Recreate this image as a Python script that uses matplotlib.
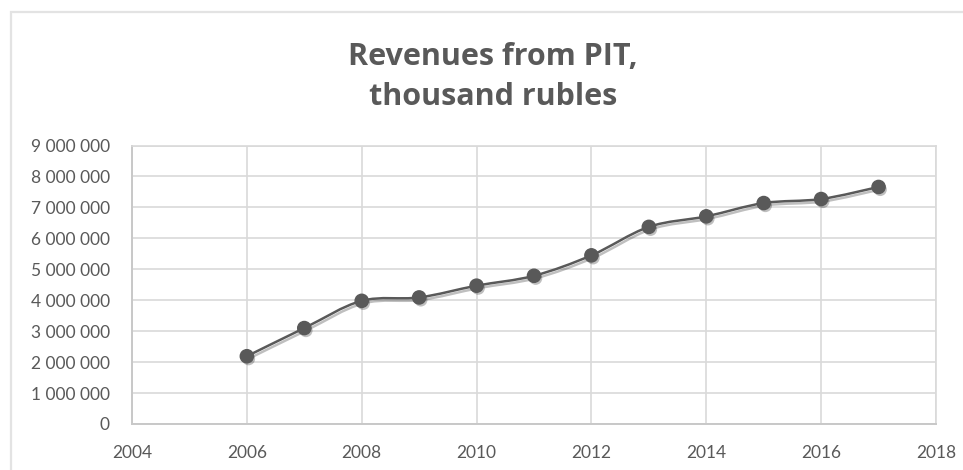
import numpy as np
import matplotlib
matplotlib.use("Agg")
import matplotlib.pyplot as plt
import matplotlib.patheffects as pe
from matplotlib.path import Path
from matplotlib.patches import PathPatch, Rectangle

# PIT revenues by year, thousand rubles
years = [2006, 2007, 2008, 2009, 2010, 2011, 2012, 2013, 2014, 2015, 2016, 2017]
revenues = [2190000, 3100000, 3980000, 4090000, 4470000, 4790000,
            5450000, 6370000, 6710000, 7140000, 7270000, 7660000]

title = "Revenues from PIT,\nthousand rubles"
x_ticks = [2004, 2006, 2008, 2010, 2012, 2014, 2016, 2018]
y_ticks = list(range(0, 9000001, 1000000))

grey = "#595959"
grid_c = "#d9d9d9"
font = "Lato"


def smooth_path(xs, ys):
    # Excel-style smoothed line: cubic Bezier segments, Catmull-Rom tangents
    xs = np.asarray(xs, float)
    ys = np.asarray(ys, float)
    n = len(xs)
    verts = [(xs[0], ys[0])]
    codes = [Path.MOVETO]
    for i in range(n - 1):
        i0 = max(i - 1, 0)
        i3 = min(i + 2, n - 1)
        c1 = (xs[i] + (xs[i + 1] - xs[i0]) / 6.0, ys[i] + (ys[i + 1] - ys[i0]) / 6.0)
        c2 = (xs[i + 1] - (xs[i3] - xs[i]) / 6.0, ys[i + 1] - (ys[i3] - ys[i]) / 6.0)
        verts += [c1, c2, (xs[i + 1], ys[i + 1])]
        codes += [Path.CURVE4] * 3
    return Path(verts, codes)


fig = plt.figure(figsize=(9.63, 4.70), dpi=100)

# chart frame
fig.patches.append(Rectangle((11 / 963, -0.05), 1.2, 1 - 12 / 470 + 0.05,
                             transform=fig.transFigure, fill=False,
                             edgecolor="#e3e3e3", linewidth=1.6))

ax = fig.add_axes([132 / 963, 1 - 424 / 470, (936 - 132) / 963, (424 - 145.5) / 470])
ax.set_xlim(2004, 2018)
ax.set_ylim(0, 9000000)
ax.set_xticks(x_ticks)
ax.set_yticks(y_ticks)
ax.set_xticklabels([str(t) for t in x_ticks])
ax.set_yticklabels(["{:,}".format(t).replace(",", " ") for t in y_ticks])
ax.tick_params(length=0, labelsize=12.5, labelcolor=grey)
ax.tick_params(axis="y", pad=16)
ax.tick_params(axis="x", pad=15)
for lab in ax.get_xticklabels() + ax.get_yticklabels():
    lab.set_fontfamily(font)

ax.grid(True, color=grid_c, linewidth=1.2)
ax.set_axisbelow(True)
for s in ["top", "right"]:
    ax.spines[s].set_color(grid_c)
    ax.spines[s].set_linewidth(1.2)
for s in ["left", "bottom"]:
    ax.spines[s].set_color("#c8c8c8")
    ax.spines[s].set_linewidth(1.4)

line_shadow = [pe.SimpleLineShadow(offset=(1.2, -1.8), shadow_color="black", alpha=0.25), pe.Normal()]
dot_shadow = [pe.SimplePatchShadow(offset=(1.2, -1.8), shadow_rgbFace="black", alpha=0.25), pe.Normal()]

curve = PathPatch(smooth_path(years, revenues), facecolor="none", edgecolor=grey,
                  linewidth=1.8, zorder=3)
curve.set_path_effects(line_shadow)
ax.add_patch(curve)
ax.plot(years, revenues, linestyle="none", marker="o", markersize=9.5,
        color=grey, markeredgecolor=grey, zorder=4, path_effects=dot_shadow)

fig.text(493 / 963, 1 - 77 / 470, title, ha="center", va="center",
         fontsize=22, fontweight="bold", color=grey, family="Open Sans",
         linespacing=1.45)

fig.savefig("out.png", dpi=100, facecolor="white")
